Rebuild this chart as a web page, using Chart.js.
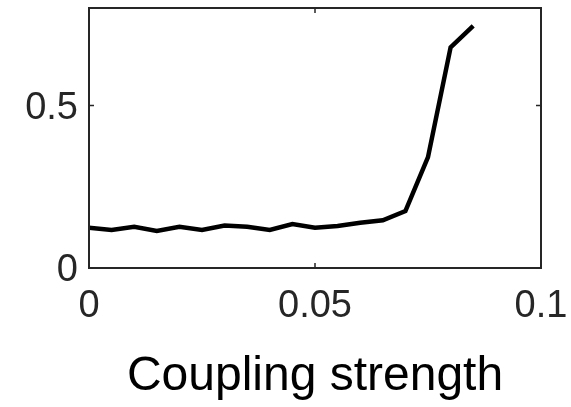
<!DOCTYPE html>
<html>
<head>
<meta charset="utf-8">
<script src="https://cdn.jsdelivr.net/npm/chart.js@4.4.1/dist/chart.umd.min.js"></script>
<style>
  html, body { margin: 0; padding: 0; background: #fff; }
  #wrap { width: 571px; height: 407px; }
</style>
</head>
<body>
<div id="wrap"><canvas id="c" width="571" height="407"></canvas></div>
<script>
// Coupling strength sweep and the measured response at each step
const couplingStrength = [0, 0.005, 0.01, 0.015, 0.02, 0.025, 0.03, 0.035, 0.04,
                          0.045, 0.05, 0.055, 0.06, 0.065, 0.07, 0.075, 0.08, 0.085];
const response = [0.124, 0.117, 0.127, 0.114, 0.127, 0.117, 0.131, 0.127, 0.117,
                  0.135, 0.124, 0.129, 0.139, 0.147, 0.175, 0.341, 0.679, 0.745];

// Axis ticks
const xTicks = [0, 0.05, 0.1];
const yTicks = [0, 0.5];
const xTickLabels = ['0', '0.05', '0.1'];
const yTickLabels = ['0', '0.5'];
const xTitle = 'Coupling strength';

const points = couplingStrength.map((x, i) => ({ x: x, y: response[i] }));

const axisColor = '#262626';

// Box around the plot area with inward tick marks on all four sides
const boxPlugin = {
  id: 'boxFrame',
  afterDraw(chart) {
    const { ctx, chartArea: a, scales } = chart;
    const len = 5;
    ctx.save();
    ctx.strokeStyle = axisColor;
    ctx.lineWidth = 2;
    ctx.strokeRect(a.left, a.top, a.right - a.left, a.bottom - a.top);
    ctx.lineWidth = 1.5;
    ctx.beginPath();
    xTicks.forEach(v => {
      const px = scales.x.getPixelForValue(v);
      ctx.moveTo(px, a.bottom); ctx.lineTo(px, a.bottom - len);
      ctx.moveTo(px, a.top); ctx.lineTo(px, a.top + len);
    });
    yTicks.forEach(v => {
      const py = scales.y.getPixelForValue(v);
      ctx.moveTo(a.left, py); ctx.lineTo(a.left + len, py);
      ctx.moveTo(a.right, py); ctx.lineTo(a.right - len, py);
    });
    ctx.stroke();
    ctx.restore();
  }
};

// Keep the plot area fixed: ignore label overhang padding
function noOverhang(scale) {
  scale.paddingTop = 0;
  scale.paddingBottom = 0;
  scale.paddingLeft = 0;
  scale.paddingRight = 0;
}

new Chart(document.getElementById('c'), {
  type: 'line',
  data: {
    datasets: [{
      data: points,
      borderColor: '#000',
      borderWidth: 4.5,
      pointRadius: 0,
      tension: 0,
      fill: false,
      borderJoinStyle: 'miter',
      borderCapStyle: 'butt'
    }]
  },
  options: {
    responsive: false,
    animation: false,
    devicePixelRatio: 1,
    layout: { padding: { left: 0, right: 30, top: 8, bottom: 1 } },
    plugins: { legend: { display: false }, tooltip: { enabled: false } },
    scales: {
      x: {
        type: 'linear',
        min: 0,
        max: 0.1,
        afterBuildTicks(scale) { scale.ticks = xTicks.map(v => ({ value: v })); },
        afterFit(scale) { scale.height = 138; noOverhang(scale); },
        grid: { display: false, drawTicks: false },
        border: { display: false },
        ticks: {
          padding: 16,
          color: axisColor,
          maxRotation: 0,
          autoSkip: false,
          font: { family: 'Liberation Sans', size: 38 },
          callback: (v) => xTickLabels[xTicks.indexOf(v)]
        },
        title: {
          display: true,
          text: xTitle,
          color: '#000',
          padding: { top: 0, bottom: 0 },
          font: { family: 'Liberation Sans', size: 48 }
        }
      },
      y: {
        type: 'linear',
        min: 0,
        max: 0.8,
        afterBuildTicks(scale) { scale.ticks = yTicks.map(v => ({ value: v })); },
        afterFit(scale) { scale.width = 89; noOverhang(scale); },
        grid: { display: false, drawTicks: false },
        border: { display: false },
        ticks: {
          padding: 11,
          labelOffset: 3,
          color: axisColor,
          autoSkip: false,
          font: { family: 'Liberation Sans', size: 38 },
          callback: (v) => yTickLabels[yTicks.indexOf(v)]
        }
      }
    }
  },
  plugins: [boxPlugin]
});
</script>
</body>
</html>
